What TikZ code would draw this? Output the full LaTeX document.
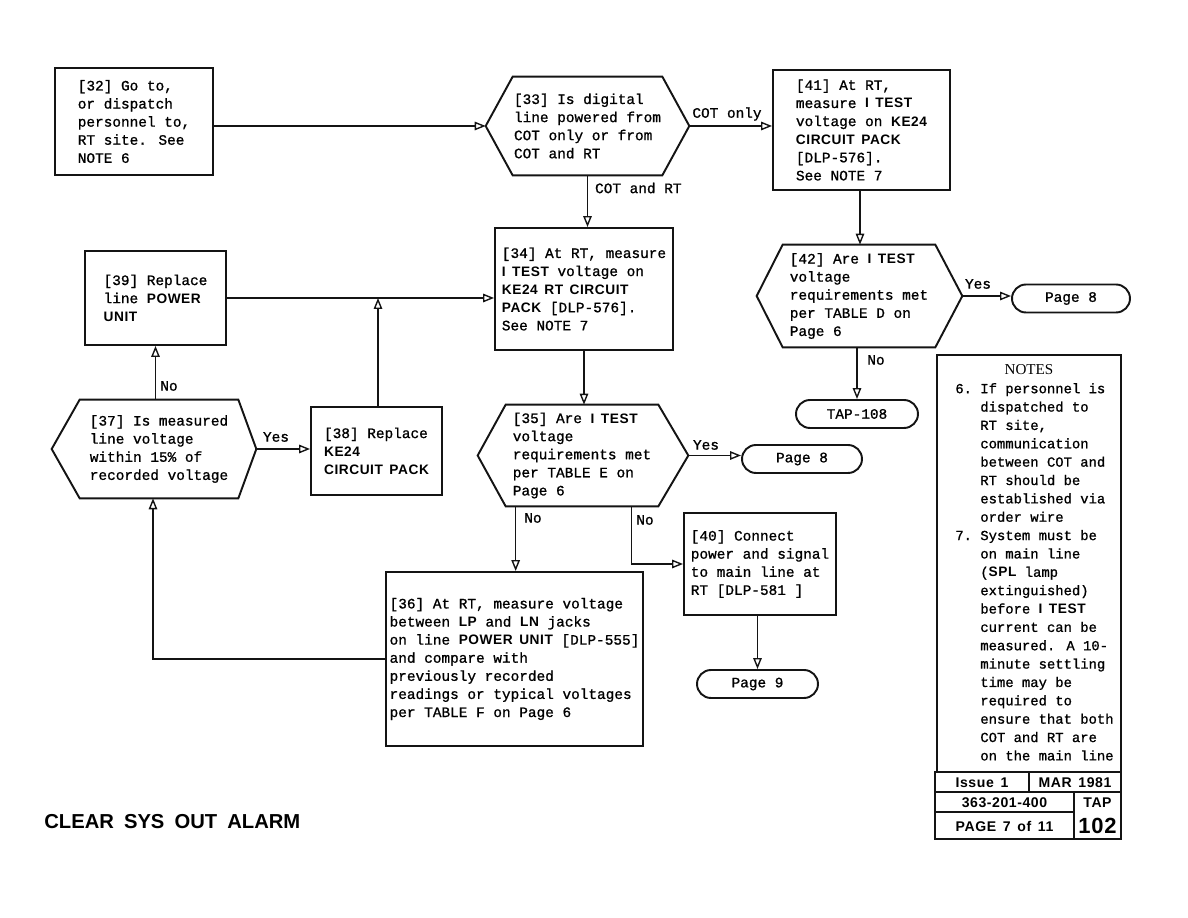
\documentclass[tikz,border=0pt]{standalone}
\usepackage{fontspec}
\usepackage{xcolor}
\usepackage{tikz}
\usetikzlibrary{arrows.meta,calc}
\newfontfamily\tapmono[FakeBold=1]{Liberation Mono}
\newfontfamily\tapsans[LetterSpace=4,WordSpace=1.5]{Liberation Sans}
\newfontfamily\taptitle[WordSpace=1.8]{Liberation Sans}
\newfontfamily\tapserif{Liberation Serif}
\definecolor{TAPink}{HTML}{141414}
\newcommand{\tapfont}{\tapmono\fontsize{8.2}{10.3}\selectfont}
\newcommand{\kw}[1]{{\tapsans\bfseries\fontsize{7.8}{10.3}\selectfont #1}}
% hexagon frame round a plain node: node, left tip, right tip
\newcommand{\hexframe}[3]{%
  \coordinate (#1-l) at ([xshift=-#2]#1.west);
  \coordinate (#1-r) at ([xshift=#3]#1.east);
  \draw[boxline] (#1.north west) -- (#1.north east) -- (#1-r) -- (#1.south east)
    -- (#1.south west) -- (#1-l) -- cycle;}
\tikzset{
  boxline/.style={draw=TAPink, line width=1.1pt, line join=miter},
  stepbox/.style={boxline, align=left, font=\tapfont, inner sep=0pt},
  hexnode/.style={align=left, font=\tapfont, inner sep=0pt},
  termbox/.style={boxline, rounded corners=0.28cm, font=\tapfont, minimum height=0.56cm, inner sep=0pt},
  flowarr/.style={-{Triangle[open,length=2.2mm,width=1.7mm]}, line width=0.8pt, draw=TAPink},
  branchlbl/.style={font=\tapfont, inner sep=1pt},
  tabline/.style={draw=TAPink, line width=1.1pt},
  tabtext/.style={font=\tapsans\bfseries\fontsize{8}{9}\selectfont, inner sep=0pt}
}

\begin{document}
\begin{tikzpicture}[x=0.02cm, y=-0.02cm]
\useasboundingbox (0,0) rectangle (1188,918);

% steps
\node[stepbox, minimum width=3.16cm, minimum height=2.14cm] (n32) at (134,121.5)
  {[32] Go to,\\or dispatch\\personnel to,\\RT site. See\\NOTE 6};
\node[hexnode, minimum width=2.98cm, minimum height=1.96cm] (n33) at (587.5,126)
  {[33] Is digital\\line powered from\\COT only or from\\COT and RT};
\hexframe{n33}{0.54cm}{0.54cm}
\node[stepbox, minimum width=3.54cm, minimum height=2.4cm] (n41) at (861.5,130)
  {[41] At RT,\\measure \kw{I TEST}\\voltage on \kw{KE24}\\\kw{CIRCUIT PACK}\\{[DLP-576]}.\\See NOTE 7};
\node[stepbox, minimum width=3.56cm, minimum height=2.44cm] (n34) at (584,289)
  {[34] At RT, measure\\\kw{I TEST} voltage on\\\kw{KE24 RT CIRCUIT}\\\kw{PACK} [DLP-576].\\See NOTE 7};
\node[hexnode, minimum width=3.04cm, minimum height=2.04cm] (n42) at (859,296)
  {[42] Are \kw{I TEST}\\voltage\\requirements met\\per TABLE D on\\Page 6};
\hexframe{n42}{0.52cm}{0.54cm}
\node[termbox, minimum width=2.36cm] (p8a) at (1071,298.5) {Page 8};
\node[termbox, minimum width=2.44cm] (tap108) at (857,414) {TAP-108};
\node[stepbox, minimum width=2.82cm, minimum height=1.88cm] (n39) at (155.5,298)
  {[39] Replace\\line \kw{POWER}\\\kw{UNIT}};
\node[hexnode, minimum width=3.16cm, minimum height=1.96cm] (n37) at (159,449)
  {[37] Is measured\\line voltage\\within 15\% of\\recorded voltage};
\hexframe{n37}{0.56cm}{0.36cm}
\node[stepbox, minimum width=2.62cm, minimum height=1.76cm] (n38) at (376.5,451)
  {[38] Replace\\\kw{KE24}\\\kw{CIRCUIT PACK}};
\node[hexnode, minimum width=3.04cm, minimum height=2.02cm] (n35) at (582,455.5)
  {[35] Are \kw{I TEST}\\voltage\\requirements met\\per TABLE E on\\Page 6};
\hexframe{n35}{0.56cm}{0.6cm}
\node[termbox, minimum width=2.4cm] (p8b) at (802,459) {Page 8};
\node[stepbox, minimum width=3.04cm, minimum height=2.04cm] (n40) at (760,564)
  {[40] Connect\\power and signal\\to main line at\\RT [DLP-581 ]};
\node[termbox, minimum width=2.42cm] (p9) at (757.5,684) {Page 9};
\node[stepbox, minimum width=5.14cm, minimum height=3.48cm] (n36) at (514.5,659)
  {[36] At RT, measure voltage\\between \kw{LP} and \kw{LN} jacks\\on line \kw{POWER UNIT} [DLP-555]\\and compare with\\previously recorded\\readings or typical voltages\\per TABLE F on Page 6};

% connectors
\draw[flowarr] (n32.east |- n33-l) -- (n33-l);
\draw[flowarr] (n33-r) -- (n41.west |- n33-r);
\node[branchlbl] (lcot) at (727,114) {COT only};
\draw[flowarr] (n33.south) -- (n33.south |- n34.north);
\node[branchlbl, anchor=west] (lcotrt) at (593,188) {COT and RT};
\draw[flowarr] (n41.south -| 860,0) -- (n42.north -| 860,0);
\draw[flowarr] (n42-r) -- (p8a.west |- n42-r);
\node[branchlbl] (lyes42) at (978,284) {Yes};
\draw[flowarr] (n42.south -| tap108.north) -- (tap108.north);
\node[branchlbl] (lno42) at (876,360) {No};
\draw[flowarr] (n39.east) -- (n34.west |- n39.east);
\draw[flowarr] (n38.north -| 378,0) -- (n39.east -| 378,0);
\draw[flowarr] (n37.north -| n39.south) -- (n39.south);
\node[branchlbl] (lno37) at (169,386) {No};
\draw[flowarr] (n37-r) -- (n38.west |- n37-r);
\node[branchlbl] (lyes37) at (276,437) {Yes};
\draw[flowarr] (n34.south) -- (n34.south |- n35.north);
\draw[flowarr] (n35-r) -- (p8b.west |- n35-r);
\node[branchlbl] (lyes35) at (706,445) {Yes};
\draw[flowarr] ([xshift=0.2cm]n35.south west) -- ([xshift=0.2cm]n35.south west |- n36.north);
\node[branchlbl] (lno35a) at (533,518) {No};
\draw[flowarr] ([xshift=-0.54cm]n35.south east) |- (n40.west);
\node[branchlbl] (lno35b) at (645,520) {No};
\draw[flowarr] (n40.south -| p9.north) -- (p9.north);
\draw[flowarr] (n36.west) -| ([xshift=-0.12cm]n37.south);

% notes and title block
\node[boxline, minimum width=3.68cm, minimum height=8.34cm, inner sep=0pt] (notes) at (1029,563.5) {};
\node[anchor=north, font=\tapserif\fontsize{8.6}{10}\selectfont, inner sep=0pt] (notehead) at (1029,364) {NOTES};
\node[anchor=north west, font=\tapmono\fontsize{7.9}{10.45}\selectfont, inner sep=0pt] (notetext) at (955,380)
  {\begin{tabular}{@{}l@{\ }l@{}}
   6. & If personnel is\\ & dispatched to\\ & RT site,\\ & communication\\
      & between COT and\\ & RT should be\\ & established via\\ & order wire\\
   7. & System must be\\ & on main line\\ & (\kw{SPL} lamp\\ & extinguished)\\
      & before \kw{I TEST}\\ & current can be\\ & measured. A 10-\\ & minute settling\\
      & time may be\\ & required to\\ & ensure that both\\ & COT and RT are\\
      & on the main line
   \end{tabular}};
\draw[tabline] (935,772) rectangle (1121,839);
\draw[tabline] (935,792) -- (1121,792);
\draw[tabline] (935,812) -- (1074,812);
\draw[tabline] (1029,772) -- (1029,792);
\draw[tabline] (1074,792) -- (1074,839);
\node[tabtext] (issue) at (982,782.5) {Issue 1};
\node[tabtext] (issdate) at (1075,782.5) {MAR 1981};
\node[tabtext] (docno) at (1004.5,802.5) {363-201-400};
\node[tabtext] (taptag) at (1097.5,802.5) {TAP};
\node[tabtext] (pageno) at (1004.5,826) {PAGE 7 of 11};
\node[tabtext, font=\tapsans\bfseries\fontsize{12.5}{14}\selectfont] (tapnum) at (1097.5,826) {102};

\node[anchor=west, font=\taptitle\bfseries\fontsize{11.5}{14}\selectfont, inner sep=0pt] (title) at (44,822) {CLEAR SYS OUT ALARM};
\end{tikzpicture}
\end{document}
